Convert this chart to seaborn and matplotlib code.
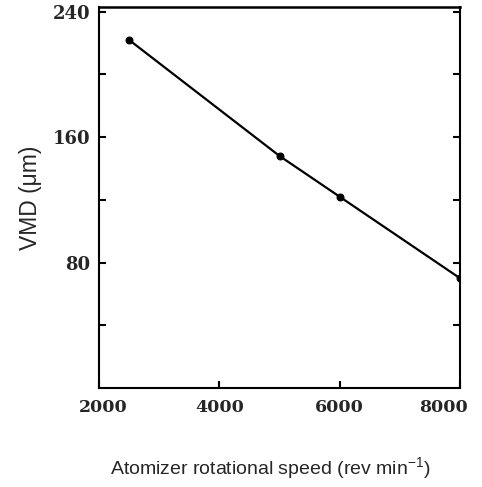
import matplotlib
matplotlib.use("Agg")
import matplotlib.pyplot as plt
import matplotlib.transforms as mtransforms
import seaborn as sns
import pandas as pd

speed = [2500, 5000, 6000, 8000]
vmd = [222, 148, 122, 70]
x_ticks = [2000, 4000, 6000, 8000]
y_ticks = [80, 160, 240]
y_minor = [40, 120, 200]

sns.set_style("ticks")
plt.rcParams['font.family'] = ['Liberation Sans', 'DejaVu Sans']
plt.rcParams['mathtext.fontset'] = 'custom'
plt.rcParams['mathtext.rm'] = 'Liberation Sans'
plt.rcParams['mathtext.it'] = 'Liberation Sans:italic'
plt.rcParams['mathtext.bf'] = 'Liberation Sans:bold'

df = pd.DataFrame({"speed": speed, "vmd": vmd})

fig = plt.figure(figsize=(4.82, 4.87), dpi=100)
ax = fig.add_axes([0.2054, 0.2033, 0.749, 0.7823])
sns.lineplot(data=df, x="speed", y="vmd", ax=ax, color="black", linewidth=1.6,
             marker="o", markersize=5, markeredgecolor="black", markerfacecolor="black")

ax.set_xlim(2000, 8000)
ax.set_ylim(0, 243)
ax.set_xticks(x_ticks)
ax.set_yticks(y_ticks)
ax.set_yticks(y_minor, minor=True)

for s in ax.spines.values():
    s.set_linewidth(1.5)
    s.set_color("black")
ax.spines['top'].set_linewidth(1.8)

ax.tick_params(axis="both", which="both", direction="in", length=5, width=1.5, color="black")
ax.tick_params(axis="y", which="both", right=True, left=True, pad=6)
ax.tick_params(axis="x", pad=8)

ax.set_xticklabels([str(v) for v in x_ticks], fontfamily="DejaVu Serif", fontweight="bold", fontsize=12.5)
ax.set_yticklabels([str(v) for v in y_ticks], fontfamily="DejaVu Serif", fontweight="bold", fontsize=13)

# shift the first and last x tick labels like the reference
labels = ax.get_xticklabels()
labels[0].set_transform(labels[0].get_transform() + mtransforms.ScaledTranslation(4/100, 0, fig.dpi_scale_trans))
labels[-1].set_transform(labels[-1].get_transform() + mtransforms.ScaledTranslation(-17/100, 0, fig.dpi_scale_trans))

ax.set_xlabel("Atomizer rotational speed (rev min$^{\\mathrm{-1}}$)", fontsize=14)
ax.xaxis.set_label_coords(0.474, -0.176)
ax.set_ylabel("VMD (\u03bcm)", fontsize=16.5, labelpad=8)

fig.savefig("out.png", dpi=100, facecolor="white")
